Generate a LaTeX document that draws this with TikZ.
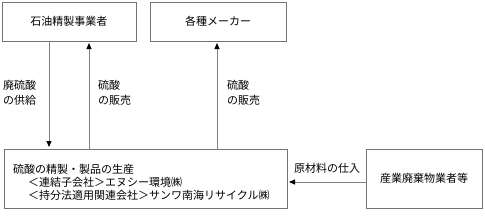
\documentclass[tikz,border=0pt]{standalone}
\usepackage{fontspec}
\setmainfont{Noto Sans CJK JP}
\usetikzlibrary{arrows.meta}
\begin{document}
\begin{tikzpicture}[x=1pt,y=-1pt,
  box/.style={draw=black!55,line width=0.8pt,inner sep=0pt},
  conn/.style={draw=black!50,line width=0.9pt,-{Triangle[length=6pt,width=5pt,color=black]}},
  lbl/.style={font=\fontsize{11}{15}\selectfont,inner sep=0pt,align=left},
  txt/.style={font=\fontsize{11}{13}\selectfont,inner sep=0pt}]
\useasboundingbox (0,0) rectangle (485,218);
\node[box,minimum width=134pt,minimum height=39pt] (A) at (69,21.5) {};
\node[txt] at (A.center) {石油精製事業者};
\node[box,minimum width=136pt,minimum height=39pt] (B) at (218,21.5) {};
\node[txt] at (B.center) {各種メーカー};
\node[box,minimum width=283pt,minimum height=59pt] (C) at (145.5,178.5) {};
\node[box,minimum width=116pt,minimum height=59pt] (D) at (424,178.5) {};
\node[txt] at (D.center) {産業廃棄物業者等};
\node[txt,anchor=west] (c1) at (13,169) {硫酸の精製・製品の生産};
\node[txt,anchor=west] (c2) at (28,182) {＜連結子会社＞エヌシー環境㈱};
\node[txt,anchor=west] (c3) at (28,195) {＜持分法適用関連会社＞サンワ南海リサイクル㈱};
% connector endpoints
\coordinate (a1) at (A.south -| 49,0);
\coordinate (a2) at (49,147);
\coordinate (b1) at (89,149.5);
\coordinate (b2) at (89,43);
\coordinate (d1) at (217,149.5);
\coordinate (d2) at (217,43);
\coordinate (e1) at (D.west |- 0,182);
\coordinate (e2) at (289,182);
\draw[conn] (a1) -- (a2);
\draw[conn] (b1) -- (b2);
\draw[conn] (d1) -- (d2);
\draw[conn] (e1) -- (e2);
\node[lbl,anchor=north west] (l1) at (3,80) {廃硫酸\\の供給};
\node[lbl,anchor=north west] (l2) at (98,80) {硫酸\\の販売};
\node[lbl,anchor=north west] (l3) at (227,80) {硫酸\\の販売};
\node[txt] (l4) at (327,168) {原材料の仕入};
\end{tikzpicture}
\end{document}
